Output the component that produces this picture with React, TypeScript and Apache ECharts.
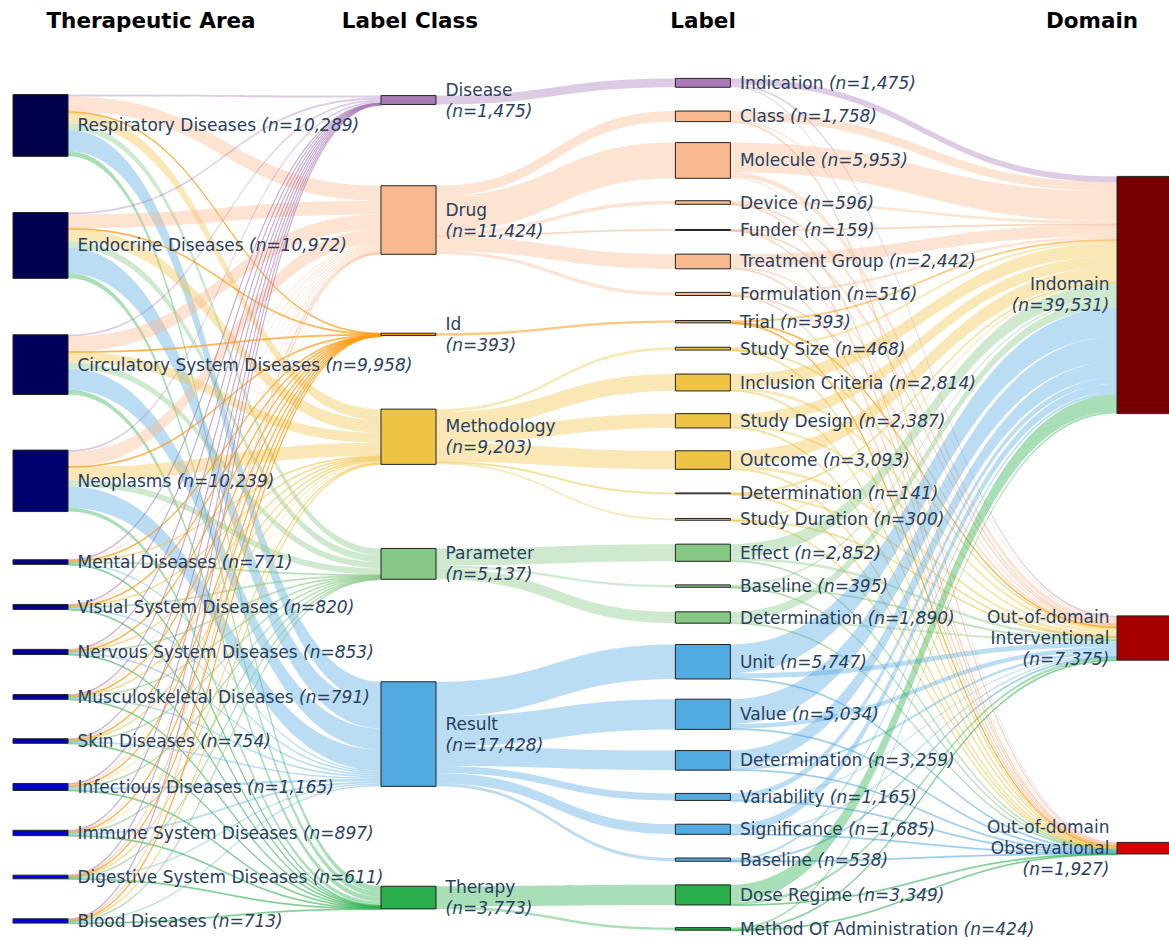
import React, { useEffect, useRef } from "react";
import * as echarts from "echarts";

// ---------------- data ----------------
const TA_NAMES = [
  "Respiratory Diseases",
  "Endocrine Diseases",
  "Circulatory System Diseases",
  "Neoplasms",
  "Mental Diseases",
  "Visual System Diseases",
  "Nervous System Diseases",
  "Musculoskeletal Diseases",
  "Skin Diseases",
  "Infectious Diseases",
  "Immune System Diseases",
  "Digestive System Diseases",
  "Blood Diseases",
];
const TA_COUNTS = [10289, 10972, 9958, 10239, 771, 820, 853, 791, 754, 1165, 897, 611, 713];

const CLASS_NAMES = ["Disease", "Drug", "Id", "Methodology", "Parameter", "Result", "Therapy"];
const CLASS_COUNTS = [1475, 11424, 393, 9203, 5137, 17428, 3773];

const LABEL_NAMES = [
  "Indication", "Class", "Molecule", "Device", "Funder", "Treatment Group", "Formulation",
  "Trial",
  "Study Size", "Inclusion Criteria", "Study Design", "Outcome", "Determination", "Study Duration",
  "Effect", "Baseline", "Determination",
  "Unit", "Value", "Determination", "Variability", "Significance", "Baseline",
  "Dose Regime", "Method Of Administration",
];
// index into CLASS_NAMES
const LABEL_CLASS = [0, 1, 1, 1, 1, 1, 1, 2, 3, 3, 3, 3, 3, 3, 4, 4, 4, 5, 5, 5, 5, 5, 5, 6, 6];
const LABEL_COUNTS = [
  1475, 1758, 5953, 596, 159, 2442, 516,
  393,
  468, 2814, 2387, 3093, 141, 300,
  2852, 395, 1890,
  5747, 5034, 3259, 1165, 1685, 538,
  3349, 424,
];

const DOMAIN_NAMES = ["Indomain", "Out-of-domain\nInterventional", "Out-of-domain\nObservational"];
const DOMAIN_COUNTS = [39531, 7375, 1927];

// Therapeutic area -> label class flows (columns follow CLASS_NAMES)
const TA_TO_CLASS = [
  [330, 2500, 80, 1850, 1100, 3529, 900],
  [300, 2300, 80, 2050, 1150, 4242, 850],
  [300, 2500, 85, 1700, 1050, 3523, 800],
  [320, 2414, 80, 2198, 1067, 3517, 643],
  [25, 175, 8, 150, 80, 270, 63],
  [25, 190, 8, 160, 85, 290, 62],
  [26, 195, 8, 165, 90, 300, 69],
  [24, 185, 7, 150, 82, 280, 63],
  [23, 180, 7, 140, 78, 265, 61],
  [35, 270, 10, 220, 120, 420, 90],
  [27, 210, 8, 170, 95, 317, 70],
  [18, 140, 6, 115, 65, 220, 47],
  [22, 165, 6, 135, 75, 255, 55],
];

// Label -> domain flows (columns follow DOMAIN_NAMES)
const LABEL_TO_DOMAIN = [
  [1000, 300, 175],
  [1500, 200, 58],
  [4966, 784, 203],
  [450, 110, 36],
  [110, 35, 14],
  [2000, 330, 112],
  [420, 75, 21],
  [300, 70, 23],
  [360, 80, 28],
  [2200, 480, 134],
  [1850, 420, 117],
  [2450, 520, 123],
  [105, 28, 8],
  [230, 55, 15],
  [2250, 470, 132],
  [300, 70, 25],
  [1450, 330, 110],
  [4800, 820, 127],
  [4150, 758, 126],
  [2700, 440, 119],
  [950, 170, 45],
  [1380, 240, 65],
  [430, 80, 28],
  [2850, 440, 59],
  [330, 70, 24],
];

const COLUMN_TITLES = ["Therapeutic Area", "Label Class", "Label", "Domain"];

// ---------------- style / layout ----------------
const W = 1169;
const H = 941;
const KY = 0.006; // px per unit of flow
const FONT = '"DejaVu Sans", Verdana, sans-serif';
const TEXT_COLOR = "#2a3f5f";
const TITLE_X = [151, 410, 703, 1092];

const TA_COLORS = [
  "#00004a", "#000050", "#00005c", "#00006e", "#000086", "#00008f", "#000099",
  "#0000a4", "#0000b0", "#0000c0", "#0000cf", "#0000de", "#0000ec",
];
const CLASS_COLORS = ["#a97cb8", "#f9b98f", "#ff9a12", "#efc445", "#86c784", "#52abe0", "#28ae4a"];
const DOMAIN_COLORS = ["#760000", "#a60000", "#d80000"];
const LINK_ALPHA = [0.4, 0.4, 0.55, 0.4, 0.4, 0.4, 0.4];

// vertical spacing (px) before each node of a column
const TA_GAPS = [94.6, 56.2, 56.4, 55.6, 48.2, 40.1, 40.0, 40.1, 39.4, 40.2, 39.8, 39.5, 40.0];
const CLASS_GAPS = [95.6, 81.3, 78.9, 73.6, 84.1, 102.5, 99.9];
const LABEL_GAPS = [
  78.4, 23.8, 21.0, 22.4, 25.2, 23.7, 23.6, 25.0, 24.4, 24.0, 22.7, 22.8, 23.6,
  24.7, 23.9, 23.6, 24.6, 21.3, 20.2, 21.2, 23.3, 23.8, 23.7, 23.6, 22.7,
];
const DOMAIN_GAPS = [176.4, 202.3, 182.3];
const DEPTHS = [0, 5, 9, 15];

const fmt = (n: number) => n.toLocaleString("en-US");

function spacer(name: string, depth: number, value: number) {
  return {
    name,
    depth,
    value,
    itemStyle: { color: "rgba(0,0,0,0)", borderColor: "rgba(0,0,0,0)", borderWidth: 0 },
    label: { show: false },
    emphasis: { disabled: true },
  };
}

function buildColumn(prefix: string, depth: number, gaps: number[], nodes: any[], counts: number[]) {
  const out: any[] = [];
  let used = 0;
  nodes.forEach((node, i) => {
    const g = gaps[i] / KY;
    out.push(spacer(`${prefix}-gap${i}`, depth, g));
    out.push({ ...node, depth });
    used += g + counts[i];
  });
  out.push(spacer(`${prefix}-gapEnd`, depth, H / KY - used));
  return out;
}

// thin flows (under 1px) get a 1px outline in their own colour so they stay visible
function linkStyle(c: number, value: number) {
  const thin = value * KY <= 1;
  return {
    color: CLASS_COLORS[c],
    opacity: LINK_ALPHA[c],
    borderColor: thin ? CLASS_COLORS[c] : "rgba(0,0,0,0)",
    borderWidth: thin ? 1 : 0,
  };
}

function buildOption() {
  const taNodes = TA_NAMES.map((n, i) => ({
    name: `ta${i}`,
    itemStyle: { color: TA_COLORS[i] },
    label: { position: "right", distance: 9, formatter: `{a|${n}} {b|(n=${fmt(TA_COUNTS[i])})}` },
  }));
  const classNodes = CLASS_NAMES.map((n, i) => ({
    name: `cls${i}`,
    itemStyle: { color: CLASS_COLORS[i] },
    label: { position: "right", distance: 9, formatter: `{a|${n}}\n{b|(n=${fmt(CLASS_COUNTS[i])})}` },
  }));
  const labelNodes = LABEL_NAMES.map((n, i) => ({
    name: `lab${i}`,
    itemStyle: { color: CLASS_COLORS[LABEL_CLASS[i]] },
    label: { position: "right", distance: 9, formatter: `{a|${n}} {b|(n=${fmt(LABEL_COUNTS[i])})}` },
  }));
  const domainNodes = DOMAIN_NAMES.map((n, i) => ({
    name: `dom${i}`,
    itemStyle: { color: DOMAIN_COLORS[i] },
    label: {
      position: "left",
      distance: 7,
      align: "right",
      formatter:
        n.split("\n").map((line) => `{a|${line}}`).join("\n") + `\n{b|(n=${fmt(DOMAIN_COUNTS[i])})}`,
    },
  }));

  const data = [
    ...buildColumn("ta", DEPTHS[0], TA_GAPS, taNodes, TA_COUNTS),
    ...buildColumn("cls", DEPTHS[1], CLASS_GAPS, classNodes, CLASS_COUNTS),
    ...buildColumn("lab", DEPTHS[2], LABEL_GAPS, labelNodes, LABEL_COUNTS),
    ...buildColumn("dom", DEPTHS[3], DOMAIN_GAPS, domainNodes, DOMAIN_COUNTS),
  ];

  const links: any[] = [];
  TA_TO_CLASS.forEach((row, i) =>
    row.forEach((v, c) =>
      links.push({ source: `ta${i}`, target: `cls${c}`, value: v, lineStyle: linkStyle(c, v) })
    )
  );
  LABEL_COUNTS.forEach((v, j) => {
    const c = LABEL_CLASS[j];
    links.push({ source: `cls${c}`, target: `lab${j}`, value: v, lineStyle: linkStyle(c, v) });
  });
  LABEL_TO_DOMAIN.forEach((row, j) => {
    const c = LABEL_CLASS[j];
    row.forEach((v, d) =>
      links.push({ source: `lab${j}`, target: `dom${d}`, value: v, lineStyle: linkStyle(c, v) })
    );
  });

  return {
    animation: false,
    backgroundColor: "#ffffff",
    graphic: COLUMN_TITLES.map((t, i) => ({
      type: "text",
      x: TITLE_X[i],
      y: 20,
      style: {
        text: t,
        fill: "#000000",
        fontFamily: FONT,
        fontSize: 21.5,
        fontWeight: "bold",
        textAlign: "center",
        textVerticalAlign: "middle",
        align: "center",
        verticalAlign: "middle",
      },
    })),
    series: [
      {
        type: "sankey",
        left: 13,
        top: 0,
        width: 1159,
        height: H,
        nodeWidth: 55,
        nodeGap: 0,
        nodeAlign: "left",
        layoutIterations: 0,
        draggable: false,
        emphasis: { disabled: true },
        itemStyle: { borderColor: "#222222", borderWidth: 1 },
        lineStyle: { curveness: 0.5 },
        label: {
          show: true,
          fontFamily: FONT,
          fontSize: 17,
          color: TEXT_COLOR,
          rich: {
            a: { fontFamily: FONT, fontSize: 17, color: TEXT_COLOR, lineHeight: 21 },
            b: { fontFamily: FONT, fontSize: 17, color: TEXT_COLOR, lineHeight: 21, fontStyle: "italic" },
          },
        },
        data,
        links,
      },
    ],
  };
}

export default function App() {
  const ref = useRef<HTMLDivElement>(null);
  useEffect(() => {
    if (!ref.current) return;
    const chart = echarts.init(ref.current, undefined, { renderer: "svg" });
    chart.setOption(buildOption() as any);
    return () => chart.dispose();
  }, []);
  return (
    <div
      ref={ref}
      style={{ position: "absolute", left: 0, top: 0, width: W, height: H, background: "#fff" }}
    />
  );
}
